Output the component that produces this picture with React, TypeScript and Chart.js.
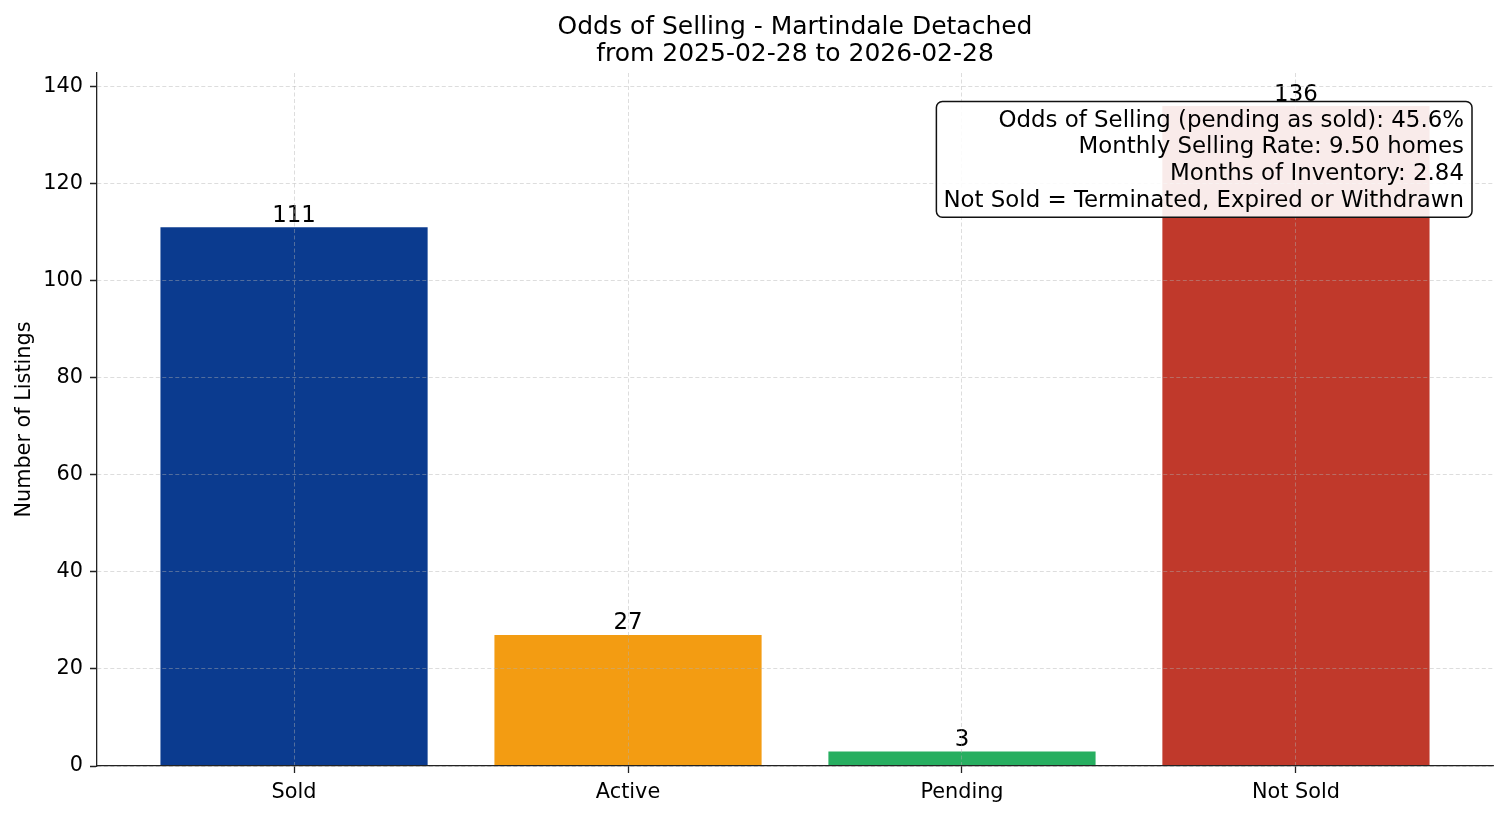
import React, { useEffect, useRef } from "react";
import { Chart, registerables } from "chart.js";

Chart.register(...registerables);

const categories = ["Sold", "Active", "Pending", "Not Sold"];
const listingCounts = [111, 27, 3, 136];
const barColors = ["#0B3B8F", "#F39C12", "#27AE60", "#C0392B"];
const yTickValues = [0, 20, 40, 60, 80, 100, 120, 140];
const titleLines = ["Odds of Selling - Martindale Detached", "from 2025-02-28 to 2026-02-28"];
const yAxisLabel = "Number of Listings";
const infoLines = [
  "Odds of Selling (pending as sold): 45.6%",
  "Monthly Selling Rate: 9.50 homes",
  "Months of Inventory: 2.84",
  "Not Sold = Terminated, Expired or Withdrawn",
];

const FONT = "'DejaVu Sans', 'Liberation Sans', sans-serif";
const W = 1507;
const H = 816;

const yMax = Math.max(...listingCounts) * 1.05;
const barWidthFrac = 0.8;
const xSpan = categories.length - 1 + barWidthFrac;
const xMin = -barWidthFrac / 2 - 0.05 * xSpan;
const xMax = categories.length - 1 + barWidthFrac / 2 + 0.05 * xSpan;

const gridStyle = {
  color: "rgba(176,176,176,0.55)",
  lineWidth: 0.8,
  offset: false,
  z: 1,
  tickLength: 7,
  tickColor: "#222",
  tickWidth: 1.3,
  tickBorderDash: [1, 0],
};

const borderStyle = { display: true, color: "#222", width: 1.3, dash: [4, 2.5], z: 2 };

const overlayPlugin = {
  id: "overlay",
  afterDatasetsDraw(chart: any) {
    const ctx = chart.ctx;
    const meta = chart.getDatasetMeta(0);
    ctx.save();
    ctx.font = `22.9px ${FONT}`;
    ctx.fillStyle = "#000";
    ctx.textAlign = "center";
    ctx.textBaseline = "alphabetic";
    meta.data.forEach((el: any, i: number) => {
      ctx.fillText(String(listingCounts[i]), el.x, el.y - 5.5);
    });
    ctx.restore();
  },
  afterDraw(chart: any) {
    const ctx = chart.ctx;
    const area = chart.chartArea;
    ctx.save();
    // title
    ctx.fillStyle = "#000";
    ctx.textAlign = "center";
    ctx.textBaseline = "alphabetic";
    ctx.font = `25px ${FONT}`;
    const cx = (area.left + area.right) / 2;
    ctx.fillText(titleLines[0], cx, area.top - 39.5);
    ctx.fillText(titleLines[1], cx, area.top - 12);

    // y axis label
    ctx.save();
    ctx.font = `20.8px ${FONT}`;
    ctx.translate(30, (area.top + area.bottom) / 2);
    ctx.rotate(-Math.PI / 2);
    ctx.fillText(yAxisLabel, 0, 0);
    ctx.restore();

    // info box
    ctx.font = `22.9px ${FONT}`;
    const lineStep = 26.7;
    const textRight = area.right - 29;
    const boxTop = area.top + 28.5;
    const firstBase = boxTop + 25.2;
    let maxW = 0;
    infoLines.forEach((l) => {
      maxW = Math.max(maxW, ctx.measureText(l).width);
    });
    const boxLeft = textRight - maxW - 7;
    const boxRight = textRight + 8;
    const boxBottom = firstBase + lineStep * (infoLines.length - 1) + 10.5;
    ctx.beginPath();
    ctx.roundRect(boxLeft, boxTop, boxRight - boxLeft, boxBottom - boxTop, 6);
    ctx.fillStyle = "rgba(255,255,255,0.9)";
    ctx.fill();
    ctx.lineWidth = 1.5;
    ctx.strokeStyle = "#111";
    ctx.stroke();
    ctx.fillStyle = "#000";
    ctx.textAlign = "right";
    infoLines.forEach((l, i) => {
      ctx.fillText(l, textRight, firstBase + i * lineStep);
    });
    ctx.restore();
  },
};

export default function App() {
  const ref = useRef<HTMLCanvasElement | null>(null);

  useEffect(() => {
    document.body.style.margin = "0";
    const canvas = ref.current;
    if (!canvas) return;
    const chart = new Chart(canvas, {
      type: "bar",
      data: {
        datasets: [
          {
            data: categories.map((_, i) => ({ x: i, y: listingCounts[i] })),
            backgroundColor: barColors,
            borderWidth: 0,
            barPercentage: barWidthFrac,
            categoryPercentage: 1,
          },
        ],
      },
      options: {
        animation: false,
        responsive: false,
        devicePixelRatio: 1,
        layout: { padding: { top: 73, right: 14, left: 0, bottom: 0 } },
        plugins: {
          legend: { display: false },
          tooltip: { enabled: false },
          title: { display: false },
        },
        scales: {
          x: {
            type: "linear",
            min: xMin,
            max: xMax,
            offset: false,
            afterBuildTicks: (s: any) => {
              s.ticks = categories.map((_, i) => ({ value: i }));
            },
            afterFit: (s: any) => {
              s.height = 50;
            },
            ticks: {
              callback: (v: any) => categories[Math.round(Number(v))] ?? "",
              font: { family: FONT, size: 20.8 },
              color: "#000",
              padding: 7,
              maxRotation: 0,
              autoSkip: false,
              z: 2,
            },
            grid: gridStyle,
            border: borderStyle,
          },
          y: {
            type: "linear",
            min: 0,
            max: yMax,
            offset: false,
            afterBuildTicks: (s: any) => {
              s.ticks = yTickValues.map((v) => ({ value: v }));
            },
            afterFit: (s: any) => {
              s.width = 97;
            },
            ticks: {
              font: { family: FONT, size: 20.8 },
              color: "#000",
              padding: 7,
              z: 2,
            },
            grid: gridStyle,
            border: borderStyle,
          },
        },
      } as any,
      plugins: [overlayPlugin],
    });
    return () => chart.destroy();
  }, []);

  return (
    <div style={{ width: W, height: H, background: "#fff" }}>
      <canvas ref={ref} width={W} height={H} style={{ display: "block" }} />
    </div>
  );
}
